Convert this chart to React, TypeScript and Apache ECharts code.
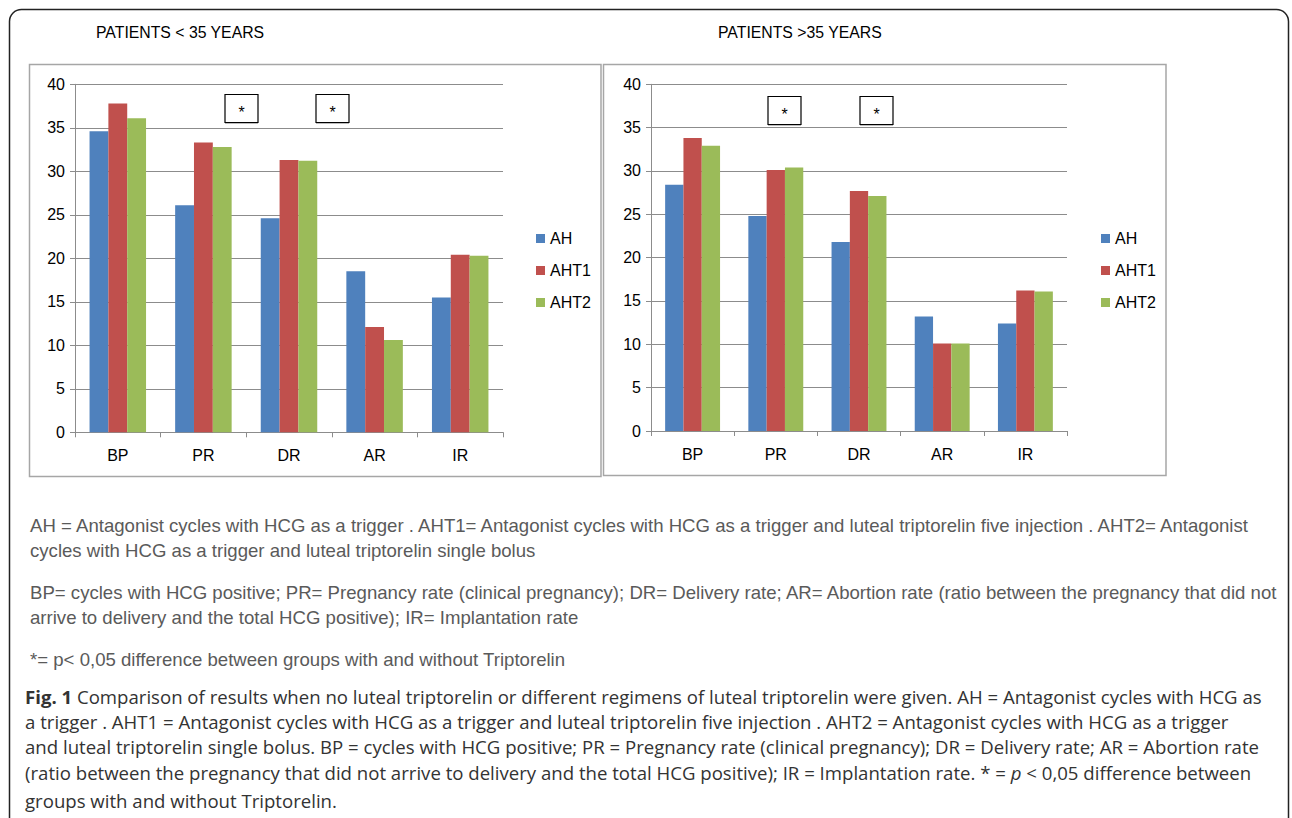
import React, { useEffect, useRef } from "react";
import * as echarts from "echarts";

const categories = ["BP", "PR", "DR", "AR", "IR"];
const seriesNames = ["AH", "AHT1", "AHT2"];
const colors = ["#4f81bd", "#c0504d", "#9bbb59"];

// Patients < 35 years
const youngAH = [34.6, 26.1, 24.6, 18.5, 15.5];
const youngAHT1 = [37.8, 33.3, 31.3, 12.1, 20.4];
const youngAHT2 = [36.1, 32.8, 31.2, 10.6, 20.3];

// Patients > 35 years
const oldAH = [28.4, 24.8, 21.8, 13.2, 12.4];
const oldAHT1 = [33.8, 30.1, 27.7, 10.1, 16.2];
const oldAHT2 = [32.9, 30.4, 27.1, 10.1, 16.1];

const yMin = 0;
const yMax = 40;
const yStep = 5;

const titleYoung = "PATIENTS < 35 YEARS";
const titleOld = "PATIENTS >35 YEARS";

const legendLines = [
  "AH = Antagonist cycles with HCG as a trigger . AHT1= Antagonist cycles with HCG as a trigger and luteal triptorelin five injection . AHT2= Antagonist",
  "cycles with HCG as a trigger and luteal triptorelin single bolus",
];
const abbrevLines = [
  "BP= cycles with HCG positive; PR= Pregnancy rate (clinical pregnancy); DR= Delivery rate; AR= Abortion rate (ratio between the pregnancy that did not",
  "arrive to delivery and the total HCG positive); IR= Implantation rate",
];
const pLine = "*= p< 0,05 difference between groups with and without Triptorelin";
const figLines = [
  "{b|Fig. 1} Comparison of results when no luteal triptorelin or different regimens of luteal triptorelin were given. AH = Antagonist cycles with HCG as",
  "a trigger . AHT1 = Antagonist cycles with HCG as a trigger and luteal triptorelin five injection . AHT2 = Antagonist cycles with HCG as a trigger",
  "and luteal triptorelin single bolus. BP = cycles with HCG positive; PR = Pregnancy rate (clinical pregnancy); DR = Delivery rate; AR = Abortion rate",
  "(ratio between the pregnancy that did not arrive to delivery and the total HCG positive); IR = Implantation rate. * = {i|p} < 0,05 difference between",
  "groups with and without Triptorelin.",
];

const chartFont = "'Liberation Sans', Arial, sans-serif";
const figFont = "'Open Sans', 'Noto Sans', sans-serif";
const figSize = 18.6;

export default function App() {
  const ref = useRef<HTMLDivElement>(null);

  useEffect(() => {
    if (!ref.current) return;
    const chart = echarts.init(ref.current, undefined, { renderer: "svg" });

    const yAxisBase = (gridIndex: number) => ({
      type: "value",
      gridIndex,
      min: yMin,
      max: yMax,
      interval: yStep,
      axisLine: { show: true, lineStyle: { color: "#8c8c8c", width: 1 } },
      axisTick: { show: true, length: 5, lineStyle: { color: "#8c8c8c" } },
      axisLabel: { color: "#000", fontSize: 16, fontFamily: chartFont, margin: 10 },
      splitLine: { show: true, lineStyle: { color: "#8c8c8c", width: 1 } },
    });
    const xAxisBase = (gridIndex: number) => ({
      type: "category",
      gridIndex,
      data: categories,
      axisLine: { show: true, lineStyle: { color: "#8c8c8c", width: 1 } },
      axisTick: { show: true, length: 5, alignWithLabel: false, lineStyle: { color: "#8c8c8c" } },
      axisLabel: { color: "#000", fontSize: 16, fontFamily: chartFont, margin: 15 },
    });

    const groups = [
      [youngAH, youngAHT1, youngAHT2],
      [oldAH, oldAHT1, oldAHT2],
    ];
    const series: any[] = [];
    groups.forEach((g, gi) => {
      g.forEach((vals, si) => {
        series.push({
          type: "bar",
          name: seriesNames[si],
          xAxisIndex: gi,
          yAxisIndex: gi,
          data: vals,
          barGap: "0%",
          barCategoryGap: "34%",
          itemStyle: { color: colors[si] },
          emphasis: { disabled: true },
        });
      });
    });

    const legendBase = (left: number) => ({
      orient: "vertical",
      left,
      top: 225,
      itemWidth: 9,
      itemHeight: 9,
      itemGap: 15,
      icon: "rect",
      data: seriesNames,
      textStyle: { color: "#000", fontSize: 16, fontFamily: chartFont, lineHeight: 17 },
      selectedMode: false,
    });

    const starBox = (x: number, y: number) => ({
      type: "group",
      children: [
        {
          type: "rect",
          shape: { x: x, y: y + 1.5, width: 33, height: 28 },
          style: { fill: "#bbb" },
          z: 9,
        },
        {
          type: "rect",
          shape: { x: x, y: y, width: 33, height: 28 },
          style: { fill: "#fff", stroke: "#000", lineWidth: 1.2 },
          z: 10,
        },
        {
          type: "text",
          style: {
            text: "*",
            x: x + 16.5,
            y: y + 18,
            fontSize: 16,
            fontFamily: chartFont,
            fill: "#000",
            align: "center",
            verticalAlign: "middle",
          },
          z: 11,
        },
      ],
    });

    const captionText = (text: string, y: number) => ({
      type: "text",
      style: {
        text,
        x: 30,
        y,
        fontSize: 18.6,
        fontFamily: "'Liberation Sans', Arial, sans-serif",
        fill: "#5a5a5a",
        verticalAlign: "middle",
      },
    });
    const figText = (text: string, y: number) => ({
      type: "text",
      style: {
        text,
        x: 25,
        y,
        fontSize: figSize,
        fontFamily: figFont,
        fill: "#333",
        verticalAlign: "middle",
        rich: {
          b: { fontWeight: "bold", fontSize: figSize, fontFamily: figFont, fill: "#333" },
          i: { fontStyle: "italic", fontSize: figSize, fontFamily: figFont, fill: "#333" },
        },
      },
    });

    const graphic: any[] = [
      {
        type: "rect",
        shape: { x: 9.5, y: 9.5, width: 1279, height: 840, r: 12 },
        style: { fill: "none", stroke: "#222", lineWidth: 1.5 },
        z: -1,
      },
      {
        type: "rect",
        shape: { x: 29.5, y: 64.5, width: 571.5, height: 412 },
        style: { fill: "none", stroke: "#a6a6a6", lineWidth: 1.5 },
        z: -1,
      },
      {
        type: "rect",
        shape: { x: 603.5, y: 64.5, width: 562.5, height: 411 },
        style: { fill: "none", stroke: "#a6a6a6", lineWidth: 1.5 },
        z: -1,
      },
      {
        type: "text",
        style: { text: titleYoung, x: 96, y: 32, fontSize: 15.8, fontFamily: chartFont, fill: "#000", verticalAlign: "middle" },
      },
      {
        type: "text",
        style: { text: titleOld, x: 718, y: 32, fontSize: 15.8, fontFamily: chartFont, fill: "#000", verticalAlign: "middle" },
      },
      starBox(225, 94.5),
      starBox(316, 94.5),
      starBox(768, 96.5),
      starBox(860, 96.5),
      captionText(legendLines[0], 525),
      captionText(legendLines[1], 550),
      captionText(abbrevLines[0], 592),
      captionText(abbrevLines[1], 617),
      captionText(pLine, 659),
      figText(figLines[0], 696),
      figText(figLines[1], 721),
      figText(figLines[2], 746),
      figText(figLines[3], 772),
      figText(figLines[4], 800),
    ];

    chart.setOption({
      animation: false,
      grid: [
        { left: 75, top: 84.3, width: 428, height: 348 },
        { left: 651, top: 84.3, width: 416, height: 346.7 },
      ],
      xAxis: [xAxisBase(0), xAxisBase(1)],
      yAxis: [yAxisBase(0), yAxisBase(1)],
      legend: [legendBase(531), legendBase(1096)],
      series,
      graphic,
    });

    return () => chart.dispose();
  }, []);

  return (
    <div
      ref={ref}
      style={{ position: "fixed", left: 0, top: 0, width: 1292, height: 818, background: "#fff" }}
    />
  );
}
